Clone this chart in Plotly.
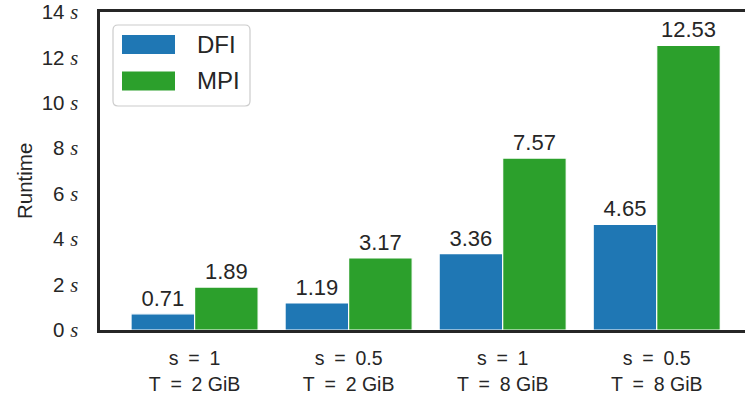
import plotly.graph_objects as go

# Benchmark configurations and measured runtimes (seconds)
categories = ["s\u2002=\u20021<br>T\u2002=\u20022 GiB", "s\u2002=\u20020.5<br>T\u2002=\u20022 GiB",
              "s\u2002=\u20021<br>T\u2002=\u20028 GiB", "s\u2002=\u20020.5<br>T\u2002=\u20028 GiB"]
dfi_runtime = [0.71, 1.19, 3.36, 4.65]
mpi_runtime = [1.89, 3.17, 7.57, 12.53]
y_ticks = [0, 2, 4, 6, 8, 10, 12, 14]

series_names = ["DFI", "MPI"]
series_colors = ["#1f77b4", "#2ca02c"]
text_color = "#262626"
sans = "Liberation Sans, Arial, sans-serif"

W, H = 745, 399
L, R, T, B = 100, 745, 12, 330  # plot-area edges in pixels


def px(x):
    return (x - L) / (R - L)


def py(y):
    return (B - y) / (B - T)


fig = go.Figure()
for name, vals, col in zip(series_names, [dfi_runtime, mpi_runtime], series_colors):
    fig.add_trace(go.Bar(
        x=list(range(len(categories))), y=vals, name=name,
        marker=dict(color=col, line=dict(color="white", width=1.2)),
        text=[f"{v:.2f}" for v in vals], textposition="outside",
        textfont=dict(family=sans, size=22, color=text_color),
        cliponaxis=False, showlegend=False,
    ))

tick_text = [f"{v} <span style=\"font-family:'Liberation Serif';font-style:italic\">s</span>"
             for v in y_ticks]

fig.update_layout(
    width=W, height=H,
    margin=dict(l=L, r=W - R, t=T, b=H - B, pad=0),
    paper_bgcolor="white", plot_bgcolor="white",
    barmode="group", bargap=0.175, bargroupgap=0,
    font=dict(family=sans, size=20, color=text_color),
    xaxis=dict(
        range=[-0.614, 3.573], tickmode="array",
        tickvals=list(range(len(categories))), ticktext=categories,
        showline=True, linecolor=text_color, linewidth=2.5, mirror=True,
        showgrid=False, zeroline=False, ticks="", ticklabelstandoff=9,
        tickfont=dict(family=sans, size=19.5, color=text_color),
    ),
    yaxis=dict(
        range=[0, 14], tickmode="array", tickvals=y_ticks, ticktext=tick_text,
        showline=True, linecolor=text_color, linewidth=2.5,
        showgrid=False, zeroline=False, ticks="", ticklabelstandoff=15,
        tickfont=dict(family=sans, size=20.5, color=text_color),
    ),
)

# Y-axis title
fig.add_annotation(text="Runtime", textangle=-90, xref="paper", yref="paper",
                   x=px(24), y=py(181), xanchor="center", yanchor="middle",
                   showarrow=False,
                   font=dict(family=sans, size=20.5, color=text_color))

# Legend box with rounded corners
x0, x1, y0, y1, r = 113, 250, 25, 106, 5
rx, ry = r / (R - L), r / (B - T)
X0, X1, Y0, Y1 = px(x0), px(x1), py(y0), py(y1)
path = (f"M {X0+rx},{Y0} L {X1-rx},{Y0} Q {X1},{Y0} {X1},{Y0-ry} "
        f"L {X1},{Y1+ry} Q {X1},{Y1} {X1-rx},{Y1} L {X0+rx},{Y1} "
        f"Q {X0},{Y1} {X0},{Y1+ry} L {X0},{Y0-ry} Q {X0},{Y0} {X0+rx},{Y0} Z")
fig.add_shape(type="path", path=path, xref="paper", yref="paper",
              line=dict(color="#cccccc", width=1.2), fillcolor="white", layer="above")

for i, (name, col) in enumerate(zip(series_names, series_colors)):
    top, bot = 35 + i * 36.5, 54 + i * 36.5
    fig.add_shape(type="rect", xref="paper", yref="paper",
                  x0=px(122), x1=px(175), y0=py(bot), y1=py(top),
                  fillcolor=col, line=dict(width=0), layer="above")
    fig.add_annotation(text=name, xref="paper", yref="paper",
                       x=px(195), y=py((top + bot) / 2), xanchor="left",
                       yanchor="middle", showarrow=False,
                       font=dict(family=sans, size=24, color=text_color))

fig.write_html("out.html")
